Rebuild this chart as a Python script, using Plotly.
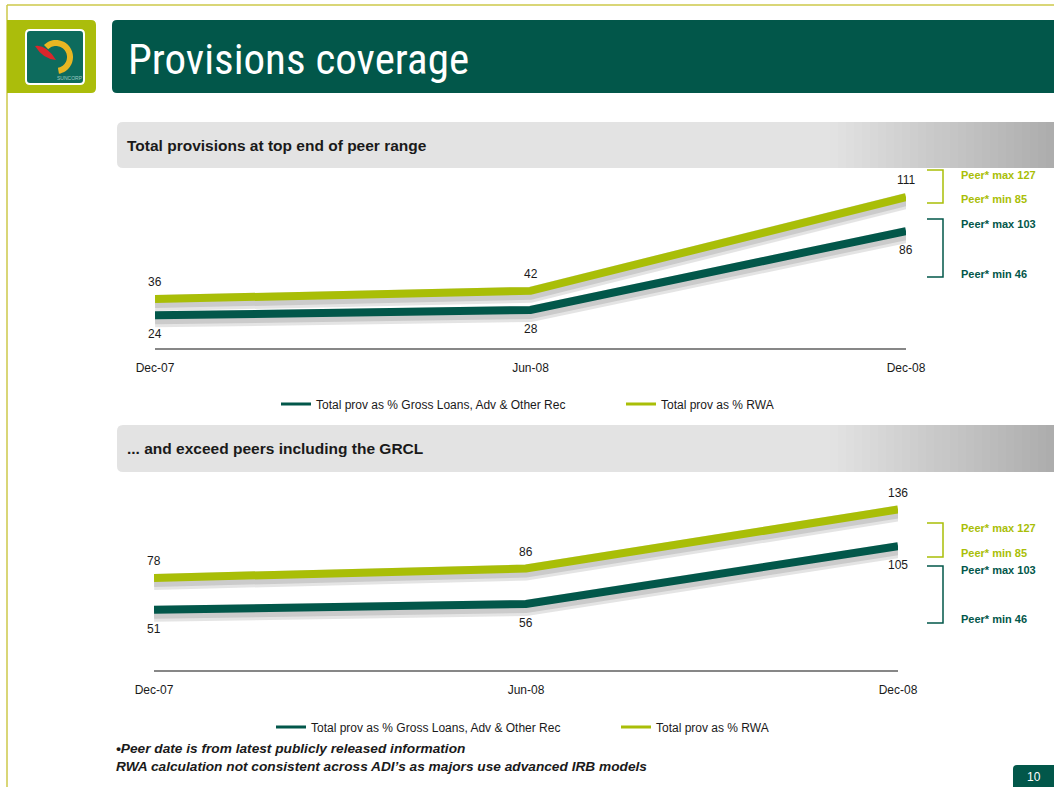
import numpy as np
import plotly.graph_objects as go

# ---------------- data ----------------
periods = ["Dec-07", "Jun-08", "Dec-08"]
series_names = ["Total prov as % Gross Loans, Adv & Other Rec", "Total prov as % RWA"]

# chart 1: total provisions
top_gross_loans = [24, 28, 86]
top_rwa = [36, 42, 111]
# chart 2: including the GRCL
grcl_gross_loans = [51, 56, 105]
grcl_rwa = [78, 86, 136]

peer_rwa_max_min = [127, 85]
peer_gross_max_min = [103, 46]

slide_title = "Provisions coverage"
chart_titles = ["Total provisions at top end of peer range",
                "... and exceed peers including the GRCL"]
footnotes = ["\u2022Peer date is from latest publicly released information",
             "RWA calculation not consistent across ADI\u2019s as majors use advanced IRB models"]
page_number = "10"

# ---------------- style ----------------
W, H = 1054, 787
DARK = "#02574A"
LIME = "#A9BE07"
BORDER = "#CDC84A"
FONT = "Liberation Sans, Arial, sans-serif"
NARROW = "Roboto Condensed, Liberation Sans Narrow, Arial Narrow, Roboto, sans-serif"
TXT = "#1a1a1a"


def px(x):
    return x / W


def py(y):
    return 1 - y / H


def P(x, y):
    return f"{px(x):.5f},{py(y):.5f}"


def rrect(x0, y0, x1, y1, tl=0, tr=0, br=0, bl=0):
    return (f"M {P(x0 + tl, y0)} L {P(x1 - tr, y0)} Q {P(x1, y0)} {P(x1, y0 + tr)} "
            f"L {P(x1, y1 - br)} Q {P(x1, y1)} {P(x1 - br, y1)} "
            f"L {P(x0 + bl, y1)} Q {P(x0, y1)} {P(x0, y1 - bl)} "
            f"L {P(x0, y0 + tl)} Q {P(x0, y0)} {P(x0 + tl, y0)} Z")


# plot geometry (pixels)
charts = [
    dict(x0=155, x1=906, ybot=348, ppu=1.36, yr=[0, 120], legend_y=404, legend_x=276,
         gross=top_gross_loans, rwa=top_rwa, xa="x", ya="y", lg="legend"),
    dict(x0=154, x1=898, ybot=670, ppu=1.18, yr=[0, 150], legend_y=727, legend_x=271,
         gross=grcl_gross_loans, rwa=grcl_rwa, xa="x2", ya="y2", lg="legend2"),
]

fig = go.Figure()
shapes = []
annotations = []
SHADOW_PX = 4

for i, c in enumerate(charts):
    ytop = c["ybot"] - c["ppu"] * c["yr"][1]
    c["ytop"] = ytop
    off = SHADOW_PX / c["ppu"]
    for vals, col in ((c["gross"], DARK), (c["rwa"], LIME)):
        sh = [v - off for v in vals]
        fig.add_trace(go.Scatter(x=periods, y=sh, mode="lines", xaxis=c["xa"], yaxis=c["ya"],
                                 line=dict(color="rgba(90,90,90,0.16)", width=16),
                                 showlegend=False, hoverinfo="skip"))
        fig.add_trace(go.Scatter(x=periods, y=sh, mode="lines", xaxis=c["xa"], yaxis=c["ya"],
                                 line=dict(color="rgba(90,90,90,0.18)", width=10),
                                 showlegend=False, hoverinfo="skip"))
    fig.add_trace(go.Scatter(x=periods, y=c["gross"], mode="lines", xaxis=c["xa"], yaxis=c["ya"],
                             line=dict(color=DARK, width=8), showlegend=False, name=series_names[0]))
    fig.add_trace(go.Scatter(x=periods, y=c["rwa"], mode="lines", xaxis=c["xa"], yaxis=c["ya"],
                             line=dict(color=LIME, width=8), showlegend=False, name=series_names[1]))
    # legend entries
    for name, col in zip(series_names, (DARK, LIME)):
        fig.add_trace(go.Scatter(x=[None], y=[None], mode="lines", xaxis=c["xa"], yaxis=c["ya"],
                                 line=dict(color=col, width=3), name=name, legend=c["lg"]))
    # data labels
    for p, v in zip(periods, c["rwa"]):
        annotations.append(dict(x=p, y=v, xref=c["xa"], yref=c["ya"], text=str(v), showarrow=False,
                                yshift=17, font=dict(family=FONT, size=12, color=TXT)))
    for p, v in zip(periods, c["gross"]):
        annotations.append(dict(x=p, y=v, xref=c["xa"], yref=c["ya"], text=str(v), showarrow=False,
                                yshift=-19, font=dict(family=FONT, size=12, color=TXT)))

axis_common = dict(showgrid=False, zeroline=False)
fig.update_layout(
    xaxis=dict(domain=[px(charts[0]["x0"]), px(charts[0]["x1"])], range=[0, 2], anchor="y",
               showline=True, linecolor="#878787", linewidth=2, ticks="outside", ticklen=8,
               tickcolor="rgba(0,0,0,0)", tickfont=dict(family=FONT, size=12, color=TXT),
               **axis_common),
    yaxis=dict(domain=[py(charts[0]["ybot"]), py(charts[0]["ytop"])], range=charts[0]["yr"],
               anchor="x", visible=False, **axis_common),
    xaxis2=dict(domain=[px(charts[1]["x0"]), px(charts[1]["x1"])], range=[0, 2], anchor="y2",
                showline=True, linecolor="#878787", linewidth=2, ticks="outside", ticklen=8,
                tickcolor="rgba(0,0,0,0)", tickfont=dict(family=FONT, size=12, color=TXT),
                **axis_common),
    yaxis2=dict(domain=[py(charts[1]["ybot"]), py(charts[1]["ytop"])], range=charts[1]["yr"],
                anchor="x2", visible=False, **axis_common),
)

legend_common = dict(orientation="h", xanchor="left", yanchor="middle", bgcolor="rgba(0,0,0,0)",
                     font=dict(family=FONT, size=12, color=TXT), entrywidth=300,
                     entrywidthmode="pixels", itemclick=False, itemdoubleclick=False,
                     tracegroupgap=0)
fig.update_layout(
    legend=dict(x=px(charts[0]["legend_x"]), y=py(charts[0]["legend_y"]), **legend_common),
    legend2=dict(x=px(charts[1]["legend_x"]), y=py(charts[1]["legend_y"]), **legend_common),
)

# ---------------- slide decoration ----------------
shapes.append(dict(type="line", xref="paper", yref="paper", x0=px(7), x1=px(W), y0=py(5), y1=py(5),
                   line=dict(color=BORDER, width=1.5)))
shapes.append(dict(type="line", xref="paper", yref="paper", x0=px(7), x1=px(7), y0=py(5), y1=py(H),
                   line=dict(color=BORDER, width=1.5)))
shapes.append(dict(type="path", xref="paper", yref="paper", path=rrect(7, 20, 96, 93, 0, 5, 5, 0),
                   fillcolor="#ABBD0B", line=dict(width=0)))
shapes.append(dict(type="path", xref="paper", yref="paper", path=rrect(26, 30, 84, 84, 4, 4, 4, 4),
                   fillcolor="#0D6B5D", line=dict(color="white", width=2)))
cx, cy, ro, ri = 56, 57, 17, 11
ang = np.radians(np.linspace(135, -80, 40))
outer = [(cx + ro * np.cos(a), cy - ro * np.sin(a)) for a in ang]
inner = [(cx + ri * np.cos(a), cy - ri * np.sin(a)) for a in ang[::-1]]
ring = "M " + " L ".join(P(x, y) for x, y in outer + inner) + " Z"
shapes.append(dict(type="path", xref="paper", yref="paper", path=ring, fillcolor="#E8B622",
                   line=dict(width=0)))
leaf = f"M {P(35, 46)} Q {P(46, 44)} {P(56, 60)} Q {P(43, 59)} {P(35, 46)} Z"
shapes.append(dict(type="path", xref="paper", yref="paper", path=leaf, fillcolor="#D9262C",
                   line=dict(width=0)))
annotations.append(dict(x=px(55), y=py(78), xref="paper", yref="paper", text="SUNCORP", showarrow=False,
                        yanchor="middle", font=dict(family=FONT, size=5, color="#9FC9C0")))
shapes.append(dict(type="path", xref="paper", yref="paper", path=rrect(112, 20, W + 2, 93, 5, 0, 0, 5),
                   fillcolor=DARK, line=dict(width=0)))
annotations.append(dict(x=px(126), y=py(59), xref="paper", yref="paper", text=slide_title,
                        showarrow=False, xanchor="left", yanchor="middle",
                        font=dict(family=NARROW, size=43, color="white")))

for (yb0, yb1), title in zip(((122, 168), (425, 472)), chart_titles):
    gx0 = 830
    shapes.append(dict(type="path", xref="paper", yref="paper",
                       path=rrect(117, yb0, gx0 + 1, yb1, 6, 0, 0, 6),
                       fillcolor="#E3E3E3", line=dict(width=0)))
    n = 28
    edges = np.linspace(gx0, W, n + 1)
    for k in range(n):
        t = (k + 0.5) / n
        g = int(round(227 - (227 - 172) * t))
        shapes.append(dict(type="rect", xref="paper", yref="paper", x0=px(edges[k]),
                           x1=px(edges[k + 1] + 0.6), y0=py(yb1), y1=py(yb0),
                           fillcolor=f"rgb({g},{g},{g})", line=dict(width=0)))
    annotations.append(dict(x=px(125), y=py((yb0 + yb1) / 2), xref="paper", yref="paper",
                            text=title, showarrow=False, xanchor="left", yanchor="middle",
                            font=dict(family=FONT, size=15.5, color=TXT, weight="bold")))

brackets = [
    (170, 203, LIME, peer_rwa_max_min, (175, 199)),
    (219, 277, DARK, peer_gross_max_min, (224, 274)),
    (523, 557, LIME, peer_rwa_max_min, (528, 553)),
    (566, 623, DARK, peer_gross_max_min, (570, 619)),
]
for y0, y1, col, vals, (ly0, ly1) in brackets:
    path = f"M {P(927, y0)} L {P(943, y0)} L {P(943, y1)} L {P(927, y1)}"
    shapes.append(dict(type="path", xref="paper", yref="paper", path=path,
                       line=dict(color=col, width=1.5)))
    for lbl, v, yy in (("max", vals[0], ly0), ("min", vals[1], ly1)):
        annotations.append(dict(x=px(959), y=py(yy), xref="paper", yref="paper",
                                text=f"Peer* {lbl} {v}", showarrow=False, xanchor="left",
                                yanchor="middle",
                                font=dict(family=FONT, size=11, color=col, weight="bold")))

for txt, yy in zip(footnotes, (748, 766)):
    annotations.append(dict(x=px(114), y=py(yy), xref="paper", yref="paper", text=f"<b><i>{txt}</i></b>",
                            showarrow=False, xanchor="left", yanchor="middle",
                            font=dict(family=FONT, size=13.7, color=TXT)))

shapes.append(dict(type="path", xref="paper", yref="paper", path=rrect(1013, 765, W + 2, H + 2, 4, 0, 0, 0),
                   fillcolor=DARK, line=dict(width=0)))
annotations.append(dict(x=px(1034), y=py(777), xref="paper", yref="paper", text=page_number,
                        showarrow=False, xanchor="center", yanchor="middle",
                        font=dict(family=FONT, size=12, color="white")))

fig.update_layout(
    width=W, height=H, margin=dict(l=0, r=0, t=0, b=0, autoexpand=False),
    paper_bgcolor="white", plot_bgcolor="rgba(0,0,0,0)",
    shapes=shapes, annotations=annotations, hovermode=False,
)

fig.write_html("out.html", config={"displayModeBar": False},
               post_script="document.body.style.margin='0';document.body.style.overflow='hidden';")
